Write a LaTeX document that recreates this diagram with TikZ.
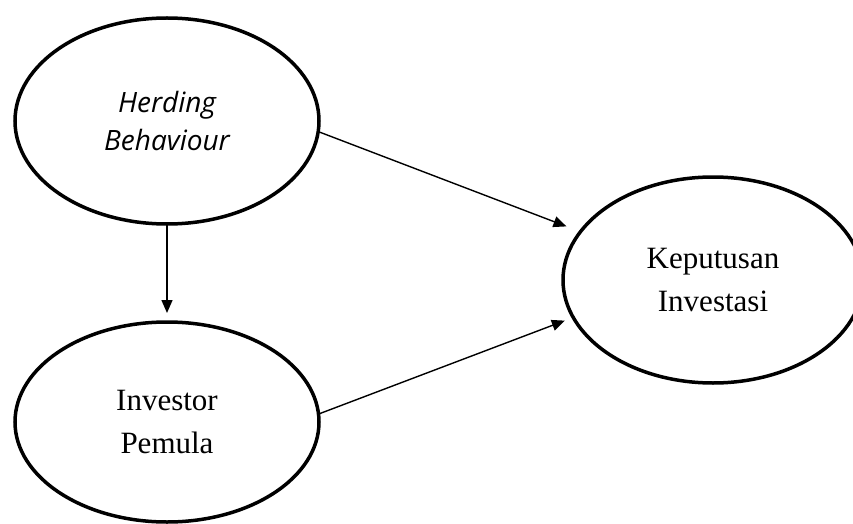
\documentclass[tikz,border=0pt]{standalone}
\usepackage{fontspec}
\setmainfont{Liberation Serif}
\newfontfamily\herdfont{Open Sans}
\usetikzlibrary{shapes.geometric,arrows.meta}
\tikzset{
  var/.style={draw=black, line width=3.5pt, ellipse, inner sep=0pt, outer sep=0pt,
    align=center, font=\fontsize{31}{43}\selectfont},
  link/.style={line width=1.4pt, -{Triangle[length=13pt,width=11pt]}}
}
\begin{document}
\begin{tikzpicture}[x=1pt,y=1pt]
\useasboundingbox (0,0) rectangle (853,523);
\clip (0,0) rectangle (853,523);
\node[var, minimum width=304pt, minimum height=206pt,
  font=\herdfont\itshape\fontsize{28}{38}\selectfont] (h) at (167,402) {Herding\\Behaviour};
\node[var, minimum width=304pt, minimum height=200pt] (b) at (167,101) {Investor\\Pemula};
\node[var, minimum width=300pt, minimum height=206pt] (k) at (713,243) {Keputusan\\Investasi};
\draw[link, shorten >=9pt] (h.south) -- (b.north);
\draw[link, shorten >=15pt] (h.-4) -- (k.160);
\draw[link, shorten >=9pt] (b.3) -- (k.195);
\end{tikzpicture}
\end{document}
